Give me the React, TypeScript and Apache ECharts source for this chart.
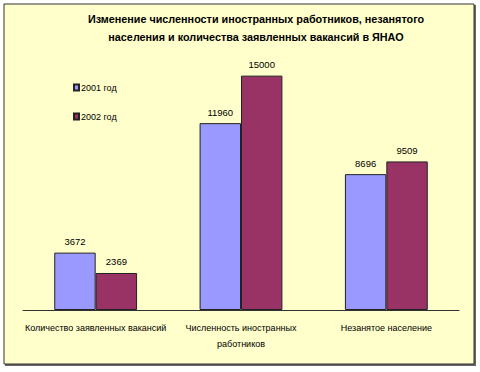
import React, { useEffect, useRef } from "react";
import * as echarts from "echarts";

const categories = [
  "Количество заявленных вакансий",
  "Численность иностранных\nработников",
  "Незанятое население",
];
const seriesNames = ["2001 год", "2002 год"];
const values2001 = [3672, 11960, 8696];
const values2002 = [2369, 15000, 9509];
const titleLines = [
  "Изменение численности иностранных работников, незанятого",
  "населения и количества заявленных вакансий в ЯНАО",
];

const FONT = "'Liberation Sans', Arial, sans-serif";

export default function App() {
  const ref = useRef<HTMLDivElement>(null);
  useEffect(() => {
    document.body.style.margin = "0";
    const chart = echarts.init(ref.current!, null, { renderer: "svg" });
    const labelStyle = {
      show: true,
      position: "top",
      distance: 6,
      color: "#000",
      fontFamily: FONT,
      fontSize: 9.5,
    };
    chart.setOption({
      animation: false,
      backgroundColor: "#ffffff",
      graphic: [
        {
          type: "rect",
          z: -10,
          shape: { x: 5, y: 5, width: 471, height: 361 },
          style: { fill: "#666666" },
          silent: true,
        },
        {
          type: "rect",
          z: -9,
          shape: { x: 4, y: 4, width: 470, height: 360 },
          style: { fill: "#FFFFCC", stroke: "#333333", lineWidth: 1 },
          silent: true,
        },
      ],
      title: {
        text: titleLines.join("\n"),
        left: 251,
        textAlign: "center",
        top: 5,
        textStyle: {
          fontFamily: FONT,
          fontWeight: "bold",
          fontSize: 10.8,
          lineHeight: 18,
          color: "#000",
        },
      },
      legend: {
        orient: "vertical",
        left: 68,
        top: 78,
        itemWidth: 5,
        itemHeight: 6,
        itemGap: 20,
        icon: "rect",
        textStyle: { fontFamily: FONT, fontSize: 9, color: "#000", padding: [0, 0, 0, -3] },
        data: seriesNames,
      },
      grid: { left: 23, right: 21, top: 60, bottom: 62 },
      xAxis: {
        type: "category",
        data: categories,
        axisLine: { lineStyle: { color: "#333", width: 1 } },
        axisTick: { show: false },
        axisLabel: {
          interval: 0,
          margin: 10,
          color: "#000",
          fontFamily: FONT,
          fontSize: 9,
          lineHeight: 16,
        },
      },
      yAxis: {
        type: "value",
        min: 0,
        max: 16000,
        show: false,
        splitLine: { show: false },
      },
      series: [
        {
          name: seriesNames[0],
          type: "bar",
          data: values2001,
          barGap: "0%",
          barCategoryGap: "43%",
          itemStyle: { color: "#9999FF", borderColor: "#222", borderWidth: 1 },
          label: labelStyle,
        },
        {
          name: seriesNames[1],
          type: "bar",
          data: values2002,
          itemStyle: { color: "#993366", borderColor: "#222", borderWidth: 1 },
          label: labelStyle,
        },
      ],
    });
    return () => chart.dispose();
  }, []);
  return <div ref={ref} style={{ width: 480, height: 372, position: "absolute", left: 0, top: 0 }} />;
}
